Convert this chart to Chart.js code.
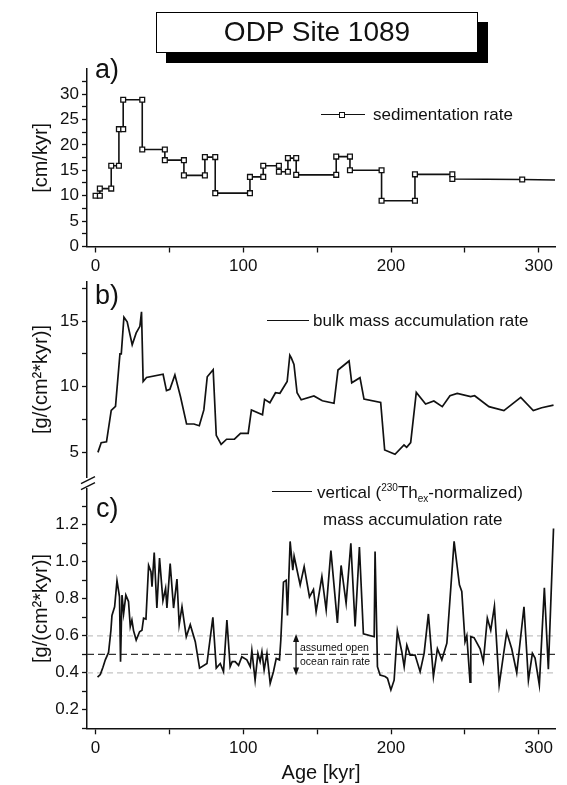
<!DOCTYPE html>
<html><head><meta charset="utf-8">
<script src="https://cdn.jsdelivr.net/npm/chart.js@4/dist/chart.umd.min.js"></script>
<style>
html,body{margin:0;padding:0;background:#fff;}
#wrap{position:relative;width:567px;height:785px;overflow:hidden;font-family:"Liberation Sans",Arial,Helvetica,sans-serif;color:#111;}
canvas{position:absolute;left:0;top:0;}
.t{position:absolute;white-space:nowrap;}
.ln{position:absolute;height:0;border-top:1.6px solid #111;}
.sq{position:absolute;width:4px;height:4px;border:1.3px solid #111;background:#fff;}
#title{position:absolute;left:156px;top:12px;width:322px;height:41px;box-sizing:border-box;border:1.5px solid #000;background:#fff;box-shadow:10px 10px 0 #000;font-size:28px;line-height:38px;text-align:center;}
sup,sub{font-size:10px;line-height:0;}
</style></head><body>
<div id="wrap">
<canvas id="cA" width="567" height="785"></canvas>
<canvas id="cB" width="567" height="785"></canvas>
<canvas id="cC" width="567" height="785"></canvas>
<div id="title">ODP Site 1089</div>
<div class="t" style="left:95px;top:56px;font-size:27px;line-height:27px;">a)</div>
<div class="t" style="left:95px;top:282px;font-size:27px;line-height:27px;">b)</div>
<div class="t" style="left:96px;top:495px;font-size:27px;line-height:27px;">c)</div>
<div class="ln" style="left:321px;top:114px;width:44px;"></div>
<div class="sq" style="left:339px;top:111.5px;"></div>
<div class="t" style="left:373px;top:106px;font-size:17px;line-height:17px;">sedimentation rate</div>
<div class="ln" style="left:267px;top:320px;width:42px;"></div>
<div class="t" style="left:313px;top:312px;font-size:17px;line-height:17px;">bulk mass accumulation rate</div>
<div class="ln" style="left:272px;top:491px;width:40px;"></div>
<div class="t" style="left:317px;top:484px;font-size:17px;line-height:17px;">vertical (<sup>230</sup>Th<sub>ex</sub>-normalized)</div>
<div class="t" style="left:323px;top:511px;font-size:17px;line-height:17px;">mass accumulation rate</div>
<div class="t" style="left:300px;top:642px;font-size:10.5px;line-height:11px;">assumed open</div>
<div class="t" style="left:300px;top:655.5px;font-size:10.5px;line-height:11px;">ocean rain rate</div>
</div>
<script>
// ---------- data ----------
const ageRange = [-5.8, 311];
const ageTicks = [0, 100, 200, 300];

// a) sedimentation rate [cm/kyr]
const sedAge  = [0,2.9,2.9,10.6,10.6,15.8,15.8,18.7,18.7,31.6,31.6,46.9,46.9,59.8,59.8,74,74,81,81,104.5,104.5,113.5,113.5,124.1,124.1,130.2,130.2,135.8,135.8,162.9,162.9,172.2,172.2,193.6,193.6,216.2,216.2,241.5,241.5,288.8,311];
const sedRate = [10,10,11.4,11.4,15.9,15.9,23.1,23.1,28.9,28.9,19.1,19.1,17,17,14,14,17.6,17.6,10.5,10.5,13.7,13.7,15.9,15.9,14.7,14.7,17.4,17.4,14.1,14.1,17.7,17.7,15,15,9,9,14.2,14.2,13.3,13.2,13.1];

// b) bulk mass accumulation rate [g/(cm2*kyr)]
const bulkAge = [1.6,3.8,7.4,10.6,13.5,16.5,17.4,19.2,21.4,24.8,27.5,30,31.1,32.2,34.5,45.7,48,50.3,53.7,57.5,61.6,66.6,70.2,73.3,75.6,79.6,81.7,85,88.7,94,98.1,103.3,105.5,113,114.4,118,121.8,124.8,127.5,129.7,131.5,132.5,134.3,136.4,139.2,147.8,153.5,161.4,164.1,171.6,173.4,179,181.7,193,195.7,202.7,208.8,210.6,213.3,217.1,223.4,229,234.7,239.9,244.8,253.9,256.6,266.3,276.4,287.8,296.3,302,310];
const bulkMAR = [5.0,5.73,5.8,8.2,8.5,12.5,12.5,15.3,14.95,13.2,14.1,14.6,15.7,10.4,10.7,10.95,9.7,9.8,10.9,9.24,7.16,7.16,7.03,8.23,10.76,11.3,6.3,5.6,6.0,6.0,6.45,6.45,8.23,7.87,9.04,8.78,9.54,9.5,10,10.4,12.4,12.2,11.7,9.54,9.0,9.3,8.93,8.74,11.27,11.96,10.3,10.69,9.06,8.81,5.18,4.85,5.56,5.38,5.74,9.57,8.68,8.91,8.48,9.31,9.49,9.24,9.31,8.48,8.18,9.19,8.18,8.4,8.6];

// c) vertical (230Th_ex-normalized) mass accumulation rate [g/(cm2*kyr)]
const vertAge = [1.35,3.2,5,6.6,8.8,10.4,11.1,12.9,14.5,16.2,16.9,17.9,19,20.5,22.3,23.5,24.6,25.7,27.5,29.8,31.4,32.5,34.1,35.9,37.5,38.2,39.7,41.5,43.3,45.6,47.4,48.3,50.5,52.8,55.1,56.6,58.5,61.4,64.1,67.5,70.4,75.4,79.4,81.7,84.4,86.6,88.9,91.1,92.5,94.5,96.8,99,102.4,104.7,105.8,108,109.9,111.4,112.6,114.1,116,118.2,120.4,122.3,124.5,125.4,127.2,129,129.9,131.7,133.5,134.4,138.5,141.2,144.8,147.5,149.3,153.2,156.1,159.3,163.7,166.2,169.6,172.8,175.7,178.6,181.3,188.6,189.2,190.4,190.8,192.6,196,197.6,199.9,202.1,204.3,207.3,208.9,210.7,212.9,216.3,219.7,222.4,225.3,228.7,231.4,234.4,237.8,242.7,246.3,247.9,250.1,251.3,253.5,254,256.2,260.3,262.5,265.2,267.5,270,273.2,278.3,281.7,285.1,290,293,295.7,297.5,300.4,303.8,306.5,310];
const vertMAR = [0.376,0.39,0.43,0.47,0.51,0.63,0.71,0.757,0.898,0.81,0.46,0.82,0.72,0.82,0.785,0.65,0.685,0.628,0.577,0.622,0.63,0.695,0.69,0.98,0.946,0.865,1.05,0.75,1.02,0.79,0.857,0.75,0.99,0.75,0.907,0.66,0.757,0.595,0.66,0.568,0.425,0.45,0.70,0.425,0.45,0.406,0.685,0.433,0.46,0.46,0.44,0.487,0.47,0.433,0.52,0.36,0.505,0.46,0.514,0.415,0.505,0.343,0.406,0.478,0.47,0.577,0.89,0.90,0.71,1.11,0.955,1.03,0.875,0.974,0.81,0.85,0.73,0.92,0.74,1.06,0.67,0.98,0.776,1.1,0.65,1.08,0.61,0.595,1.055,0.595,0.433,0.388,0.38,0.37,0.307,0.36,0.627,0.514,0.433,0.55,0.496,0.496,0.406,0.505,0.718,0.38,0.53,0.47,0.56,1.11,0.875,0.84,0.568,0.6,0.35,0.595,0.59,0.53,0.46,0.695,0.63,0.76,0.334,0.62,0.53,0.4,0.757,0.36,0.505,0.48,0.334,0.86,0.42,1.18];

// rain-rate reference levels and arrow
const rainLow = 0.4, rainMid = 0.5, rainHigh = 0.6;
const arrowAge = 135.7;
const arrowSpan = [0.385, 0.61];

// ---------- helpers ----------
const FONT = '"Liberation Sans", Arial, Helvetica, sans-serif';
const INK = '#111';
const pts = (xs, ys) => xs.map((x, i) => ({x, y: ys[i]}));

function xAxis(show, height, title) {
  return {
    type: 'linear', min: ageRange[0], max: ageRange[1], display: show,
    ticks: {stepSize: 50, includeBounds: false, autoSkip: false, maxRotation: 0, padding: 4,
      color: INK, font: {family: FONT, size: 17},
      callback: v => ageTicks.includes(v) ? String(v) : ''},
    grid: {drawOnChartArea: false, drawTicks: true, tickLength: 6, tickWidth: 1.3, tickColor: INK},
    border: {display: true, color: INK, width: 1.5},
    title: title ? {display: true, text: title, color: INK, font: {family: FONT, size: 20}, padding: {top: 0, bottom: 0}} : {display: false},
    afterFit: s => { s.height = height; }
  };
}
function yAxis(min, max, step, labelFn, title) {
  return {
    type: 'linear', min, max,
    ticks: {stepSize: step, includeBounds: false, autoSkip: false, padding: 3,
      color: INK, font: {family: FONT, size: 17}, callback: labelFn},
    grid: {drawOnChartArea: false, drawTicks: true, tickLength: 5, tickWidth: 1.3, tickColor: INK},
    border: {display: true, color: INK, width: 1.5},
    title: {display: true, text: title, color: INK, font: {family: FONT, size: 20}, padding: {top: 29, bottom: 0}},
    afterFit: s => { s.width = 87; }
  };
}
const common = {
  responsive: false, animation: false, devicePixelRatio: 1,
  plugins: {legend: {display: false}, tooltip: {enabled: false}},
  elements: {line: {tension: 0}}
};

// ---------- a) ----------
new Chart(document.getElementById('cA'), {
  type: 'line',
  data: {datasets: [{
    data: pts(sedAge, sedRate), borderColor: INK, borderWidth: 1.6,
    pointStyle: 'rect', pointRadius: ctx => ctx.dataIndex === sedAge.length - 1 ? 0 : 3.4,
    pointBackgroundColor: '#fff', pointBorderColor: INK, pointBorderWidth: 1.3
  }]},
  options: Object.assign({}, common, {
    layout: {padding: {top: 69.2, left: 0, right: 12, bottom: 785 - 246.5 - 30}},
    scales: {
      x: xAxis(true, 30, null),
      y: yAxis(0, 34.9, 2.5, v => v % 5 === 0 ? String(v) : '', '[cm/kyr]')
    }
  })
});

// ---------- b) ----------
new Chart(document.getElementById('cB'), {
  type: 'line',
  data: {datasets: [{
    data: pts(bulkAge, bulkMAR), borderColor: INK, borderWidth: 1.7, pointRadius: 0
  }]},
  options: Object.assign({}, common, {
    layout: {padding: {top: 281.7, left: 0, right: 12, bottom: 785 - 477.3}},
    scales: {
      x: xAxis(false, 0, null),
      y: yAxis(3.1, 18, 2.5, v => v % 5 === 0 ? String(v) : '', '[g/(cm\u00B2*kyr)]')
    }
  })
});

// ---------- c) ----------
const cExtras = {
  id: 'cExtras',
  afterDatasetsDraw(chart) {
    const {ctx, scales: {x, y}, chartArea} = chart;
    ctx.save();
    // double-headed arrow
    const ax = x.getPixelForValue(arrowAge);
    const y0 = y.getPixelForValue(arrowSpan[1]);
    const y1 = y.getPixelForValue(arrowSpan[0]);
    ctx.strokeStyle = INK; ctx.fillStyle = INK; ctx.lineWidth = 1.3;
    ctx.beginPath(); ctx.moveTo(ax, y0 + 6); ctx.lineTo(ax, y1 - 6); ctx.stroke();
    ctx.beginPath(); ctx.moveTo(ax, y0); ctx.lineTo(ax - 3, y0 + 8); ctx.lineTo(ax + 3, y0 + 8); ctx.closePath(); ctx.fill();
    ctx.beginPath(); ctx.moveTo(ax, y1); ctx.lineTo(ax - 3, y1 - 8); ctx.lineTo(ax + 3, y1 - 8); ctx.closePath(); ctx.fill();
    // axis break marks
    const L = chartArea.left, T = chartArea.top;
    ctx.lineWidth = 1.4;
    ctx.beginPath();
    ctx.moveTo(L - 6, T - 5); ctx.lineTo(L + 8, T - 12);
    ctx.moveTo(L - 6, T + 1); ctx.lineTo(L + 8, T - 6);
    ctx.stroke();
    ctx.restore();
  }
};
const refLine = (v, color, dash, w) => ({
  data: [{x: ageRange[0], y: v}, {x: ageRange[1], y: v}],
  borderColor: color, borderDash: dash, borderWidth: w, pointRadius: 0
});
new Chart(document.getElementById('cC'), {
  type: 'line',
  data: {datasets: [
    {data: pts(vertAge, vertMAR), borderColor: INK, borderWidth: 1.7, pointRadius: 0},
    refLine(rainMid, '#333', [7, 4], 1.3),
    refLine(rainHigh, '#c4c4c4', [6, 4], 1.2),
    refLine(rainLow, '#c4c4c4', [6, 4], 1.2)
  ]},
  options: Object.assign({}, common, {
    layout: {padding: {top: 488.7, left: 0, right: 12, bottom: 0}},
    scales: {
      x: xAxis(true, 785 - 728.3, 'Age [kyr]'),
      y: yAxis(0.1, 1.395, 0.1, v => { const k = Math.round(v * 10); return k % 2 === 0 ? (k / 10).toFixed(1) : ''; }, '[g/(cm\u00B2*kyr)]')
    }
  }),
  plugins: [cExtras]
});
</script>
</body></html>
